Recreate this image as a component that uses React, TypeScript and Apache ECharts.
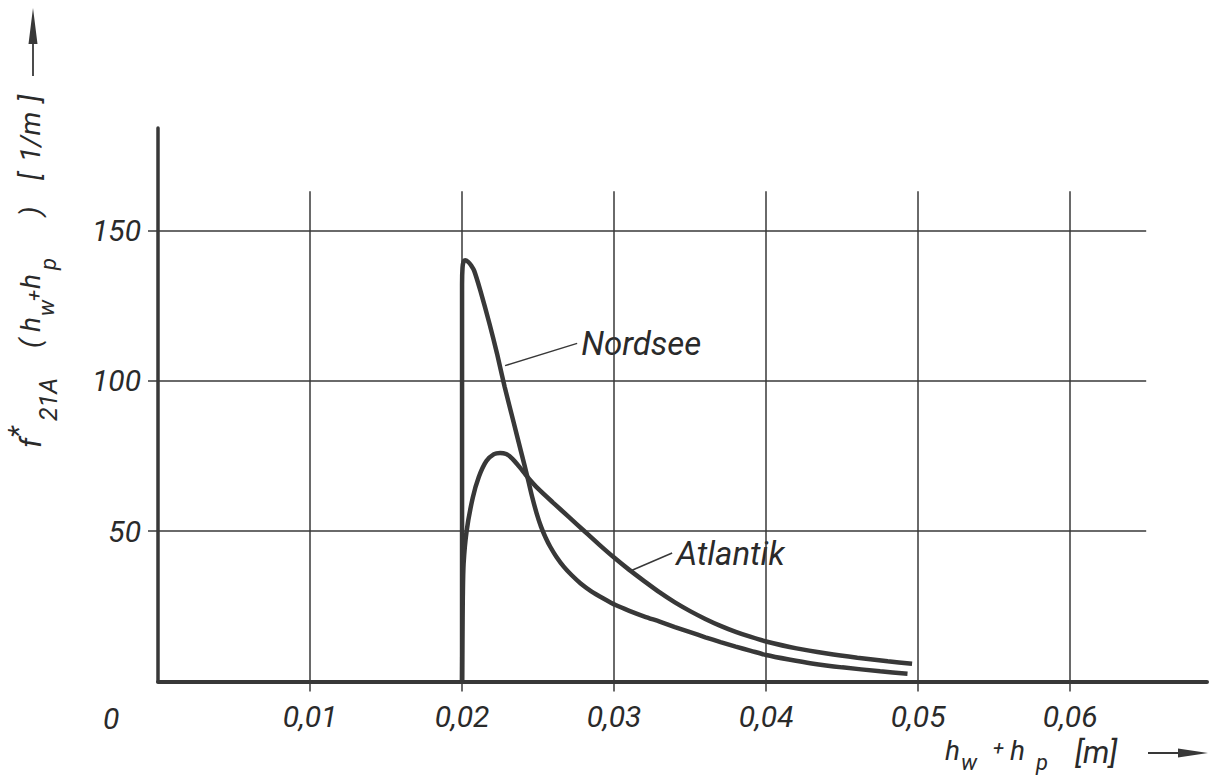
import React, { useEffect, useRef } from "react";
import * as echarts from "echarts";

// ---- data ----
const xTicks = [0.01, 0.02, 0.03, 0.04, 0.05, 0.06];
const yTicks = [50, 100, 150];
const xMax = 0.069;
const yMax = 184;
const gridLineTop = 163;
const gridLineRight = 0.065;

const nordsee: [number, number][] = [
  [0.02, 0], [0.02, 132], [0.02003, 137.5], [0.0201, 139.6], [0.0202, 140],
  [0.0204, 139.5], [0.0206, 138.3], [0.0208, 136.5], [0.0212, 130], [0.0218, 119],
  [0.0223, 109], [0.0228, 98], [0.0234, 86], [0.0239, 76], [0.0243, 68],
  [0.0246, 61.6], [0.0249, 56], [0.0252, 51.4], [0.0255, 47.8], [0.0258, 44.8],
  [0.0262, 41.5], [0.0267, 38.1], [0.0272, 35.4], [0.0278, 32.6], [0.0285, 30],
  [0.0293, 27.6], [0.0301, 25.4], [0.031, 23.5], [0.032, 21.6], [0.033, 19.9],
  [0.034, 18.1], [0.035, 16.4], [0.036, 14.7], [0.037, 13.1], [0.038, 11.6],
  [0.039, 10.2], [0.04, 8.8], [0.0415, 7.3], [0.043, 6.0], [0.045, 4.7],
  [0.0475, 3.4], [0.0493, 2.6],
];

const atlantik: [number, number][] = [
  [0.02, 0], [0.02002, 14], [0.02005, 28], [0.0201, 39], [0.0203, 50],
  [0.0207, 61], [0.0211, 68], [0.0216, 73.3], [0.0221, 75.6], [0.0225, 76],
  [0.0229, 75.6], [0.0233, 74.1], [0.0238, 71.2], [0.0243, 68], [0.025, 64.1],
  [0.026, 59.4], [0.027, 54.8], [0.028, 50.2], [0.029, 45.6], [0.030, 41.2],
  [0.031, 37.1], [0.032, 33.3], [0.033, 29.6], [0.034, 26.3], [0.035, 23.4],
  [0.036, 20.8], [0.037, 18.5], [0.038, 16.5], [0.039, 14.8], [0.04, 13.3],
  [0.042, 11.0], [0.044, 9.3], [0.046, 7.9], [0.048, 6.7], [0.0496, 5.9],
];

const nordseeLeader: [number, number][] = [[0.02283, 105], [0.02757, 112.4]];
const atlantikLeader: [number, number][] = [[0.03118, 37], [0.03382, 42.7]];

const INK = "#383838";
const TEXT = "#2a2a2a";
const FONT = "Roboto";

function italicText(text: string, x: number, y: number, size: number, extra: any = {}) {
  return {
    type: "text",
    x,
    y,
    style: {
      text,
      fill: TEXT,
      font: `italic ${size}px ${FONT}`,
      verticalAlign: "middle",
      align: "left",
      ...extra,
    },
  };
}

export default function App() {
  const ref = useRef<HTMLDivElement>(null);

  useEffect(() => {
    if (!ref.current) return;
    const chart = echarts.init(ref.current, undefined, { renderer: "svg" });

    const gridLines = [
      ...xTicks.map((x) => [{ coord: [x, 0] }, { coord: [x, gridLineTop] }]),
      ...yTicks.map((y) => [{ coord: [0, y] }, { coord: [gridLineRight, y] }]),
    ];

    const fmt = (v: number) => v.toFixed(2).replace(".", ",");

    const leaderSeries = (name: string, pts: [number, number][]) => ({
      type: "line",
      name,
      z: 4,
      symbol: "none",
      silent: true,
      lineStyle: { color: INK, width: 1.5 },
      endLabel: {
        show: true,
        distance: 4,
        formatter: name,
        fontFamily: FONT,
        fontStyle: "italic",
        fontSize: 33,
        color: TEXT,
      },
      data: pts,
    });

    // y-axis title pieces: [text, along-axis offset, cross offset, size]
    const yTitlePieces: [string, number, number, number][] = [
      ["f", 0, -12, 30],
      ["*", 10, -24, 28],
      ["21A", 27, 6, 25],
      ["(", 100, -12, 28],
      ["h", 116, -12, 28],
      ["w", 132, 4, 22],
      ["+", 147, -8, 20],
      ["h", 159, -12, 28],
      ["p", 178, 6, 22],
      [")", 232, -12, 28],
      ["[", 268, -12, 28],
      ["1/m", 286, -12, 28],
      ["]", 346, -12, 28],
    ];

    const xTitlePieces: [string, number, number, number][] = [
      ["h", 945, 750, 28],
      ["w", 961, 762, 22],
      ["+", 993, 748, 20],
      ["h", 1010, 750, 28],
      ["p", 1036, 762, 22],
      ["[m]", 1075, 752, 31],
    ];

    chart.setOption({
      animation: false,
      backgroundColor: "#ffffff",
      grid: { left: 158, right: 16, top: 128, bottom: 96.5, containLabel: false },
      xAxis: {
        type: "value",
        min: 0,
        max: xMax,
        axisLine: { show: true, onZero: true, lineStyle: { color: INK, width: 4 } },
        axisTick: {
          show: true,
          customValues: xTicks,
          length: 10,
          lineStyle: { color: INK, width: 1.5 },
        },
        axisLabel: {
          customValues: xTicks,
          formatter: fmt,
          fontFamily: FONT,
          fontStyle: "italic",
          fontSize: 30,
          color: TEXT,
          margin: 20,
        },
        splitLine: { show: false },
      },
      yAxis: {
        type: "value",
        min: 0,
        max: yMax,
        axisLine: { show: true, lineStyle: { color: INK, width: 3.5 } },
        axisTick: {
          show: true,
          customValues: yTicks,
          length: 10,
          lineStyle: { color: INK, width: 1.5 },
        },
        axisLabel: {
          customValues: yTicks,
          fontFamily: FONT,
          fontStyle: "italic",
          fontSize: 30,
          color: TEXT,
          margin: 17,
        },
        splitLine: { show: false },
      },
      series: [
        {
          type: "line",
          name: "grid",
          z: 1,
          symbol: "none",
          silent: true,
          data: [],
          lineStyle: { opacity: 0 },
          markLine: {
            silent: true,
            symbol: ["none", "none"],
            label: { show: false },
            lineStyle: { color: INK, width: 1.5, type: "solid" },
            emphasis: { disabled: true },
            data: gridLines,
          },
        },
        {
          type: "line",
          name: "Nordsee",
          z: 3,
          symbol: "none",
          smooth: 0.25,
          silent: true,
          lineStyle: { color: INK, width: 4.5 },
          data: nordsee,
        },
        {
          type: "line",
          name: "Atlantik",
          z: 3,
          symbol: "none",
          smooth: 0.25,
          silent: true,
          lineStyle: { color: INK, width: 4.5 },
          data: atlantik,
        },
        leaderSeries("Nordsee", nordseeLeader),
        leaderSeries("Atlantik", atlantikLeader),
      ],
      graphic: [
        italicText("0", 103, 718, 30),
        {
          type: "group",
          x: 42,
          y: 448,
          rotation: Math.PI / 2,
          children: yTitlePieces.map(([t, a, c, s]) => italicText(t, a, c, s)),
        },
        ...xTitlePieces.map(([t, x, y, s]) => italicText(t, x, y, s)),
        // axis arrows
        { type: "line", shape: { x1: 33, y1: 76, x2: 33, y2: 40 }, style: { stroke: INK, lineWidth: 1.8 } },
        { type: "polygon", shape: { points: [[28.5, 44], [33, 8], [37.5, 44]] }, style: { fill: INK } },
        { type: "line", shape: { x1: 1148, y1: 753, x2: 1184, y2: 753 }, style: { stroke: INK, lineWidth: 1.8 } },
        { type: "polygon", shape: { points: [[1178, 748.5], [1208, 753], [1178, 757.5]] }, style: { fill: INK } },
      ],
    });

    return () => chart.dispose();
  }, []);

  return (
    <div
      ref={ref}
      style={{ position: "fixed", left: 0, top: 0, width: 1223, height: 778, background: "#fff" }}
    />
  );
}
